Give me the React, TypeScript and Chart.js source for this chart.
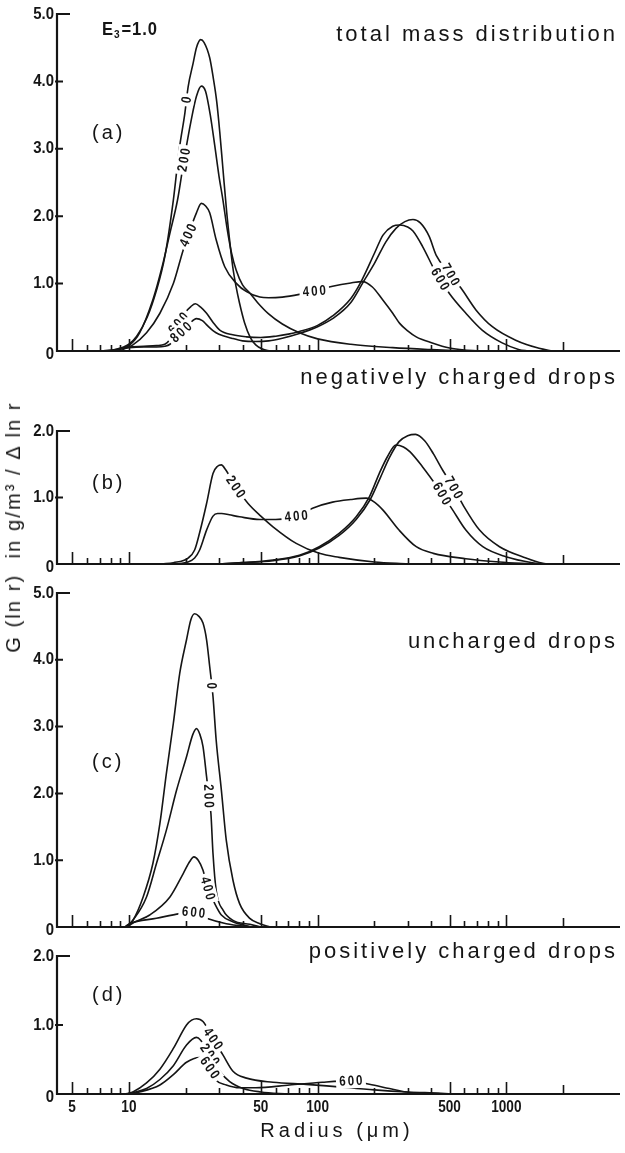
import React, { useEffect, useRef } from "react";
import { Chart, registerables } from "chart.js";

Chart.register(...registerables);

type Pt = [number, number];

// ---- Radius axis (µm, logarithmic) ----
const radiusMin = 4.16;
const radiusMax = 4000;
const majorRadiusTicks = [5, 10, 50, 100, 500, 1000, 2000];
const minorRadiusTicks = [6, 7, 8, 9, 20, 30, 40, 60, 70, 80, 90, 200, 300, 400, 600, 700, 800, 900];
const radiusTickLabels = [5, 10, 50, 100, 500, 1000];

// ---- Value axes ----
const ticksToFive = [0, 1, 2, 3, 4, 5];
const ticksToTwo = [0, 1, 2];

// ---- (a) total mass distribution: [radius µm, G] ----
const totalT0: Pt[] = [
  [8.5, 0], [9, 0.04], [10, 0.1], [11, 0.22], [12.5, 0.5], [14, 0.9], [15.5, 1.4], [17.2, 2.24],
  [18.5, 3.0], [19.8, 3.53], [20.6, 3.92], [21.9, 4.27], [22.8, 4.5], [24, 4.62], [25, 4.58],
  [26.8, 4.35], [28, 4.05], [29.2, 3.7], [30.3, 3.25], [31.5, 2.7], [33, 2.05], [34, 1.7],
  [35.5, 1.25], [37, 0.95], [38.5, 0.72], [41, 0.42], [44, 0.2], [47, 0.09], [51, 0.03], [56, 0],
];
const totalT200: Pt[] = [
  [8.5, 0], [9, 0.03], [10, 0.08], [11.4, 0.27], [13.4, 0.76], [15, 1.25], [16.5, 1.75], [18.1, 2.24],
  [19.5, 2.8], [21.4, 3.43], [22.8, 3.78], [24.2, 3.93], [25.5, 3.85], [27, 3.5], [28.5, 3.05],
  [30, 2.6], [31.5, 2.24], [33, 1.85], [35, 1.45], [37, 1.2], [40, 0.98], [43.7, 0.86], [48, 0.72],
  [55, 0.55], [65, 0.4], [80, 0.27], [100, 0.18], [150, 0.1], [250, 0.05], [400, 0.02], [600, 0],
];
const totalT400: Pt[] = [
  [9, 0], [9.3, 0.02], [10.5, 0.09], [12.4, 0.27], [14.6, 0.56], [17.2, 1.0], [19.4, 1.5], [20.8, 1.75],
  [22.8, 2.05], [24.2, 2.19], [25.5, 2.15], [26.8, 2.05], [29, 1.65], [32.2, 1.25], [37.2, 1.0],
  [42, 0.88], [49.4, 0.8], [55, 0.79], [65, 0.8], [80, 0.84], [100, 0.9], [120, 0.96], [150, 1.01],
  [173, 1.03], [195, 0.95], [221, 0.76], [250, 0.56], [272, 0.41], [300, 0.3], [333, 0.21],
  [405, 0.12], [500, 0.045], [600, 0.015], [750, 0],
];
const totalT600: Pt[] = [
  [7, 0], [8, 0.01], [9, 0.04], [10, 0.06], [12, 0.07], [14, 0.08], [15.5, 0.1], [16.5, 0.17],
  [18.2, 0.4], [20, 0.58], [21.3, 0.66], [22.5, 0.7], [24, 0.65], [25.8, 0.56], [28, 0.42],
  [30.3, 0.31], [35.5, 0.24], [42, 0.21], [50, 0.2], [60, 0.22], [70, 0.25], [80, 0.29], [100, 0.38],
  [120, 0.52], [150, 0.78], [170, 1.03], [200, 1.45], [222, 1.72], [250, 1.85], [272, 1.87],
  [300, 1.84], [320, 1.78], [360, 1.55], [420, 1.18], [500, 0.85], [610, 0.56], [744, 0.31],
  [950, 0.12], [1170, 0.02], [1300, 0],
];
const totalT700: Pt[] = [
  [7, 0], [8, 0.01], [10, 0.05], [12, 0.06], [14, 0.06], [15.5, 0.07], [16.5, 0.1], [18.8, 0.27],
  [21, 0.41], [22.8, 0.48], [24.5, 0.45], [26, 0.38], [28, 0.3], [30, 0.25], [35, 0.19], [40, 0.15],
  [47, 0.14], [55, 0.15], [65, 0.19], [80, 0.26], [100, 0.36], [120, 0.48], [150, 0.72], [175, 1.03],
  [200, 1.3], [230, 1.62], [260, 1.82], [290, 1.92], [320, 1.95], [350, 1.9], [390, 1.7],
  [425, 1.42], [500, 1.15], [576, 0.93], [690, 0.61], [843, 0.36], [1120, 0.16], [1490, 0.04], [1760, 0],
];

// ---- (b) negatively charged drops ----
const negT200: Pt[] = [
  [15, 0], [17.2, 0.02], [20.6, 0.09], [22.3, 0.21], [23.7, 0.47], [25.8, 0.91], [27.9, 1.36],
  [29.5, 1.47], [30.9, 1.49], [32.5, 1.42], [36.8, 1.16], [42.8, 0.91], [50, 0.72], [58, 0.56],
  [77, 0.31], [102, 0.16], [130, 0.1], [200, 0.03], [300, 0],
];
const negT400: Pt[] = [
  [18, 0], [20.5, 0.03], [22.3, 0.09], [23.7, 0.21], [25.8, 0.51], [27.9, 0.72], [29.5, 0.76],
  [31, 0.76], [34, 0.74], [38.6, 0.71], [49.4, 0.67], [60, 0.67], [77, 0.72], [94, 0.84], [120, 0.93],
  [150, 0.97], [181, 0.99], [200, 0.93], [222, 0.81], [270, 0.51], [333, 0.26], [410, 0.16],
  [610, 0.08], [920, 0.03], [1370, 0],
];
const negT600: Pt[] = [
  [30, 0], [40, 0.02], [58, 0.06], [80, 0.13], [102, 0.26], [130, 0.46], [160, 0.71], [188, 1.01],
  [212, 1.36], [235, 1.62], [260, 1.79], [285, 1.76], [308, 1.69], [360, 1.46], [440, 1.12],
  [520, 0.81], [610, 0.51], [750, 0.26], [995, 0.11], [1370, 0.02], [1600, 0],
];
const negT700: Pt[] = [
  [30, 0], [40, 0.02], [58, 0.05], [80, 0.12], [102, 0.24], [130, 0.43], [160, 0.67], [190, 0.97],
  [215, 1.3], [240, 1.6], [270, 1.84], [300, 1.93], [330, 1.95], [370, 1.85], [410, 1.66],
  [460, 1.41], [530, 1.13], [597, 0.86], [721, 0.51], [920, 0.26], [1270, 0.09], [1560, 0.01], [1650, 0],
];

// ---- (c) uncharged drops ----
const unchT0: Pt[] = [
  [9.5, 0], [9.9, 0.03], [10.5, 0.1], [11.9, 0.45], [13.4, 0.95], [14.6, 1.55], [15.8, 2.3],
  [17.2, 3.05], [18.6, 3.8], [20.2, 4.3], [21.3, 4.6], [22.3, 4.69], [23.5, 4.65], [24.7, 4.55],
  [25.8, 4.3], [26.8, 3.9], [27.9, 3.45], [29, 2.8], [30.9, 2.05], [32.8, 1.3], [35.6, 0.7],
  [38.6, 0.35], [43.7, 0.13], [49.4, 0.05], [56, 0],
];
const unchT200: Pt[] = [
  [9.7, 0], [10.5, 0.1], [12.4, 0.45], [14, 0.95], [15.8, 1.45], [17.9, 2.05], [20.2, 2.55],
  [21.8, 2.88], [22.8, 2.97], [23.8, 2.88], [24.7, 2.7], [25.8, 2.25], [26.5, 1.96], [27.2, 1.7],
  [27.9, 1.1], [29, 0.55], [31.6, 0.25], [35.6, 0.1], [43.7, 0.04], [50, 0],
];
const unchT400: Pt[] = [
  [9.8, 0], [10.5, 0.06], [12.9, 0.18], [16.5, 0.45], [19.4, 0.8], [21, 0.98], [22.1, 1.05],
  [23.3, 1.0], [24.7, 0.85], [26.2, 0.58], [28.5, 0.35], [30.9, 0.18], [35.5, 0.08], [45, 0],
];
const unchT600: Pt[] = [
  [9.5, 0], [10.1, 0.05], [14, 0.13], [18.6, 0.2], [22, 0.22], [25.8, 0.13], [32.8, 0.05], [45, 0],
];

// ---- (d) positively charged drops ----
const posT200: Pt[] = [
  [9.8, 0], [10.5, 0.02], [12.4, 0.08], [14.6, 0.21], [17.2, 0.41], [20.2, 0.71], [22.8, 0.82],
  [24, 0.78], [26.8, 0.57], [30.3, 0.33], [34.2, 0.18], [40.3, 0.08], [50, 0.03], [70, 0],
];
const posT400: Pt[] = [
  [9.5, 0], [10.5, 0.03], [12.4, 0.16], [14.6, 0.36], [17.2, 0.66], [20.2, 1.0], [21.5, 1.07],
  [22.8, 1.09], [24.7, 1.05], [27.9, 0.8], [31.6, 0.56], [35.6, 0.33], [42, 0.23], [58, 0.17],
  [87, 0.14], [120, 0.11], [200, 0.06], [300, 0.03], [450, 0.01], [520, 0],
];
const posT600: Pt[] = [
  [9.8, 0], [11.4, 0.03], [14.6, 0.13], [17.2, 0.28], [20.2, 0.46], [23.7, 0.53], [25, 0.5],
  [26.8, 0.38], [29, 0.2], [32.8, 0.13], [38.6, 0.09], [47, 0.09], [71, 0.13], [106, 0.17],
  [150, 0.19], [188, 0.14], [240, 0.08], [295, 0.03], [400, 0],
];

const FONT = '"Liberation Sans", Arial, Helvetica, sans-serif';
const INK = "#151515";

interface Series { name: string; pts: Pt[] }
interface CurveLabel { text: string; series: number; r: number; rot: number }
interface PanelDef {
  id: string;
  top: number;
  height: number;
  plotTop: number;
  plotBottom: number;
  yMax: number;
  yTicks: number[];
  title: string;
  titleY: number;
  tag: string;
  tagY: number;
  series: Series[];
  labels: CurveLabel[];
  bottomAxis?: boolean;
  eLabel?: boolean;
}

const panels: PanelDef[] = [
  {
    id: "a", top: 0, height: 370, plotTop: 14, plotBottom: 351, yMax: 5, yTicks: ticksToFive,
    title: "total mass distribution", titleY: 35, tag: "(a)", tagY: 133, eLabel: true,
    series: [
      { name: "0", pts: totalT0 },
      { name: "200", pts: totalT200 },
      { name: "400", pts: totalT400 },
      { name: "600", pts: totalT600 },
      { name: "700", pts: totalT700 },
    ],
    labels: [
      { text: "0", series: 0, r: 20.2, rot: -80 },
      { text: "200", series: 1, r: 19.6, rot: -80 },
      { text: "400", series: 2, r: 20.6, rot: -65 },
      { text: "600", series: 3, r: 18.3, rot: -50 },
      { text: "800", series: 4, r: 18.9, rot: -42 },
      { text: "400", series: 2, r: 96, rot: -4 },
      { text: "700", series: 4, r: 505, rot: 60 },
      { text: "600", series: 3, r: 446, rot: 60 },
    ],
  },
  {
    id: "b", top: 362, height: 212, plotTop: 431, plotBottom: 564, yMax: 2, yTicks: ticksToTwo,
    title: "negatively charged drops", titleY: 378, tag: "(b)", tagY: 483,
    series: [
      { name: "200", pts: negT200 },
      { name: "400", pts: negT400 },
      { name: "600", pts: negT600 },
      { name: "700", pts: negT700 },
    ],
    labels: [
      { text: "200", series: 0, r: 36.8, rot: 55 },
      { text: "400", series: 1, r: 77, rot: -5 },
      { text: "700", series: 3, r: 525, rot: 60 },
      { text: "600", series: 2, r: 455, rot: 60 },
    ],
  },
  {
    id: "c", top: 574, height: 362, plotTop: 593, plotBottom: 927, yMax: 5, yTicks: ticksToFive,
    title: "uncharged drops", titleY: 642, tag: "(c)", tagY: 762,
    series: [
      { name: "0", pts: unchT0 },
      { name: "200", pts: unchT200 },
      { name: "400", pts: unchT400 },
      { name: "600", pts: unchT600 },
    ],
    labels: [
      { text: "0", series: 0, r: 27.5, rot: 90 },
      { text: "200", series: 1, r: 26.5, rot: 88 },
      { text: "400", series: 2, r: 26.2, rot: 75 },
      { text: "600", series: 3, r: 22, rot: 6 },
    ],
  },
  {
    id: "d", top: 936, height: 217, plotTop: 956, plotBottom: 1094, yMax: 2, yTicks: ticksToTwo,
    title: "positively charged drops", titleY: 952, tag: "(d)", tagY: 995, bottomAxis: true,
    series: [
      { name: "200", pts: posT200 },
      { name: "400", pts: posT400 },
      { name: "600", pts: posT600 },
    ],
    labels: [
      { text: "400", series: 1, r: 27.9, rot: 55 },
      { text: "200", series: 0, r: 26.8, rot: 55 },
      { text: "600", series: 2, r: 26.8, rot: 55 },
      { text: "600", series: 2, r: 150, rot: -3 },
    ],
  },
];

// Linear interpolation along a curve in log-radius
function valueAt(pts: Pt[], r: number): number {
  for (let i = 0; i < pts.length - 1; i++) {
    const [r0, v0] = pts[i];
    const [r1, v1] = pts[i + 1];
    if (r >= r0 && r <= r1) {
      const t = (Math.log(r) - Math.log(r0)) / (Math.log(r1) - Math.log(r0));
      return v0 + t * (v1 - v0);
    }
  }
  return 0;
}

function condensed(
  ctx: CanvasRenderingContext2D, text: string, x: number, y: number,
  size: number, align: CanvasTextAlign, sx = 0.78,
) {
  ctx.save();
  ctx.translate(x, y);
  ctx.scale(sx, 1);
  ctx.font = `bold ${size}px ${FONT}`;
  ctx.textAlign = align;
  ctx.textBaseline = "middle";
  ctx.fillStyle = INK;
  ctx.fillText(text, 0, 0);
  ctx.restore();
}

function spaced(
  ctx: CanvasRenderingContext2D, text: string, x: number, y: number,
  size: number, spacing: number, align: CanvasTextAlign,
) {
  ctx.save();
  ctx.font = `${size}px ${FONT}`;
  (ctx as any).letterSpacing = `${spacing}px`;
  ctx.textBaseline = "middle";
  ctx.fillStyle = INK;
  const w = ctx.measureText(text).width - spacing;
  let left = x;
  if (align === "right") left = x - w;
  else if (align === "center") left = x - w / 2;
  ctx.textAlign = "left";
  ctx.fillText(text, left, y);
  ctx.restore();
}

function decorations(panel: PanelDef) {
  return {
    id: `decor-${panel.id}`,
    afterDatasetsDraw(chart: Chart) {
      const { ctx, chartArea: area } = chart;
      const xs = chart.scales.x;
      const ys = chart.scales.y;
      const off = panel.top;

      // inline curve labels, breaking the line underneath
      for (const lab of panel.labels) {
        const v = valueAt(panel.series[lab.series].pts, lab.r);
        const px = xs.getPixelForValue(lab.r);
        const py = ys.getPixelForValue(v);
        ctx.save();
        ctx.translate(px, py);
        ctx.rotate((lab.rot * Math.PI) / 180);
        ctx.scale(0.82, 1);
        ctx.font = `bold 14px ${FONT}`;
        (ctx as any).letterSpacing = "2.5px";
        const w = ctx.measureText(lab.text).width - 2.5;
        ctx.fillStyle = "#fff";
        ctx.fillRect(-w / 2 - 4, -7.5, w + 8, 15);
        ctx.fillStyle = INK;
        ctx.textAlign = "left";
        ctx.textBaseline = "middle";
        ctx.fillText(lab.text, -w / 2, 0.5);
        ctx.restore();
      }

      ctx.save();
      ctx.strokeStyle = INK;
      ctx.lineCap = "butt";

      // axis lines
      ctx.lineWidth = 2.2;
      ctx.beginPath();
      ctx.moveTo(area.left, area.top - 1);
      ctx.lineTo(area.left, area.bottom + 1);
      ctx.moveTo(area.left - 1, area.bottom);
      ctx.lineTo(area.right, area.bottom);
      ctx.stroke();

      // radius ticks pointing into the plot
      ctx.lineWidth = 1.6;
      ctx.beginPath();
      for (const r of majorRadiusTicks) {
        const px = Math.round(xs.getPixelForValue(r)) + 0.5;
        const len = r === 2000 ? 9 : 12;
        ctx.moveTo(px, area.bottom);
        ctx.lineTo(px, area.bottom - len);
      }
      for (const r of minorRadiusTicks) {
        const px = Math.round(xs.getPixelForValue(r)) + 0.5;
        ctx.moveTo(px, area.bottom);
        ctx.lineTo(px, area.bottom - 6);
      }
      ctx.stroke();

      // value ticks
      ctx.lineWidth = 2;
      ctx.beginPath();
      for (const v of panel.yTicks) {
        const py = ys.getPixelForValue(v);
        if (v === panel.yMax) {
          ctx.moveTo(area.left - 1, py);
          ctx.lineTo(area.left + 13, py);
        } else if (v > 0) {
          ctx.moveTo(area.left - 2, py);
          ctx.lineTo(area.left + 6, py);
        }
      }
      ctx.stroke();
      ctx.restore();

      for (const v of panel.yTicks) {
        const py = ys.getPixelForValue(v);
        condensed(ctx, v === 0 ? "0" : v.toFixed(1), area.left - 3, py + (v === 0 ? 3 : 0), 17, "right", 0.88);
      }

      // titles and panel tags
      spaced(ctx, panel.title, 615, panel.titleY - off, 22, 3.0, "right");
      spaced(ctx, panel.tag, 92, panel.tagY - off, 20, 3, "left");

      if (panel.eLabel) {
        ctx.save();
        ctx.translate(102, 30 - off);
        ctx.scale(0.92, 1);
        ctx.fillStyle = INK;
        ctx.textBaseline = "middle";
        ctx.textAlign = "left";
        (ctx as any).letterSpacing = "1px";
        ctx.font = `bold 18px ${FONT}`;
        ctx.fillText("E", 0, 0);
        let x = ctx.measureText("E").width;
        ctx.font = `bold 11px ${FONT}`;
        ctx.fillText("3", x, 5);
        x += ctx.measureText("3").width + 1;
        ctx.font = `bold 18px ${FONT}`;
        ctx.fillText("=1.0", x, 0);
        ctx.restore();
      }

      if (panel.bottomAxis) {
        for (const r of radiusTickLabels) {
          condensed(ctx, String(r), xs.getPixelForValue(r), 1107 - off, 17, "center", 0.8);
        }
        spaced(ctx, "Radius (μm)", 335, 1131 - off, 20, 4, "center");
      }
    },
  };
}

function PanelChart({ panel }: { panel: PanelDef }) {
  const ref = useRef<HTMLCanvasElement>(null);
  useEffect(() => {
    const canvas = ref.current;
    if (!canvas) return;
    const chart = new Chart(canvas, {
      type: "line",
      data: {
        datasets: panel.series.map((s) => ({
          label: s.name,
          data: s.pts.map(([x, y]) => ({ x, y })),
          borderColor: INK,
          borderWidth: 1.6,
          pointRadius: 0,
          fill: false,
          cubicInterpolationMode: "monotone" as const,
        })),
      },
      options: {
        responsive: false,
        maintainAspectRatio: false,
        animation: false,
        events: [],
        layout: {
          padding: {
            left: 57,
            right: 5,
            top: panel.plotTop - panel.top,
            bottom: panel.top + panel.height - panel.plotBottom,
          },
        },
        scales: {
          x: { type: "logarithmic", min: radiusMin, max: radiusMax, display: false },
          y: { type: "linear", min: 0, max: panel.yMax, display: false },
        },
        plugins: { legend: { display: false }, tooltip: { enabled: false } },
      },
      plugins: [decorations(panel)],
    });
    return () => chart.destroy();
  }, [panel]);
  return (
    <canvas
      ref={ref}
      width={625}
      height={panel.height}
      style={{ position: "absolute", left: 0, top: panel.top, width: 625, height: panel.height }}
    />
  );
}

export default function App() {
  return (
    <div
      style={{
        position: "absolute", left: 0, top: 0, width: 625, height: 1153,
        background: "#fff", overflow: "hidden",
      }}
    >
      {panels.map((p) => (
        <PanelChart key={p.id} panel={p} />
      ))}
      <div
        style={{
          position: "absolute", left: 13, top: 527,
          transform: "translate(-50%, -50%) rotate(-90deg)",
          whiteSpace: "pre", fontFamily: FONT, fontSize: 20, letterSpacing: "2.1px",
          color: INK, lineHeight: 1,
        }}
      >
        {"G (ln r)  in g/m³ / Δ ln r"}
      </div>
    </div>
  );
}
